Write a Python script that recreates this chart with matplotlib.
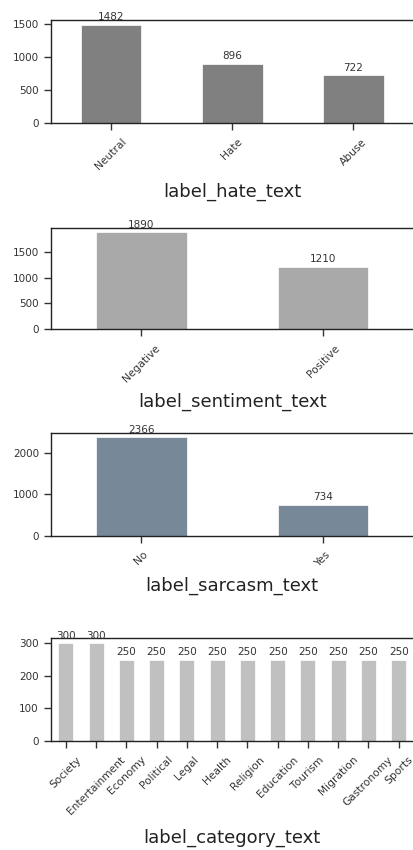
import matplotlib
matplotlib.use("Agg")
import matplotlib.pyplot as plt
from matplotlib.ticker import MultipleLocator

# counts per label column
hate_labels = ["Neutral", "Hate", "Abuse"]
hate_counts = [1482, 896, 722]

sentiment_labels = ["Negative", "Positive"]
sentiment_counts = [1890, 1210]

sarcasm_labels = ["No", "Yes"]
sarcasm_counts = [2366, 734]

category_labels = ["Society", "Entertainment", "Economy", "Political", "Legal",
                   "Health", "Religion", "Education", "Tourism", "Migration",
                   "Gastronomy", "Sports"]
category_counts = [300, 300, 250, 250, 250, 250, 250, 250, 250, 250, 250, 250]

panels = [
    ("label_hate_text", hate_labels, hate_counts, "gray", 500, 7.5, [0.1225, 0.8553, 0.877, 0.1208]),
    ("label_sentiment_text", sentiment_labels, sentiment_counts, "darkgray", 500, 6, [0.1225, 0.6129, 0.877, 0.1194]),
    ("label_sarcasm_text", sarcasm_labels, sarcasm_counts, "lightslategray", 1000, 6, [0.1225, 0.3698, 0.877, 0.1213]),
    ("label_category_text", category_labels, category_counts, "silver", 100, 9, [0.1225, 0.1286, 0.877, 0.1203]),
]

fig = plt.figure(figsize=(4.14, 8.5), dpi=100)

for name, labels, counts, color, step, lpad, rect in panels:
    ax = fig.add_axes(rect)
    x = list(range(len(labels)))
    bars = ax.bar(x, counts, width=0.5, color=color, edgecolor="white", linewidth=0.5)
    ax.set_xlim(-0.5, len(labels) - 0.5)
    ax.set_ylim(0, max(counts) * 1.05)
    ax.yaxis.set_major_locator(MultipleLocator(step))
    ax.set_xticks(x)
    ax.set_xticklabels(labels, rotation=45, fontsize=7.7, color="#333333")
    ax.tick_params(axis="y", labelsize=7.5, colors="#333333")
    ax.tick_params(length=5, width=1, color="#333333")
    ax.tick_params(axis="x", pad=5)
    for s in ax.spines.values():
        s.set_linewidth(1)
        s.set_color("#222222")
    for b, c in zip(bars, counts):
        ax.annotate(str(c), (b.get_x() + b.get_width() / 2, c),
                    xytext=(0, 2), textcoords="offset points",
                    ha="center", va="bottom", fontsize=7.5, color="#333333")
    ax.set_xlabel(name, fontsize=13, color="#222222", labelpad=lpad)

fig.savefig("out.png", dpi=100)
